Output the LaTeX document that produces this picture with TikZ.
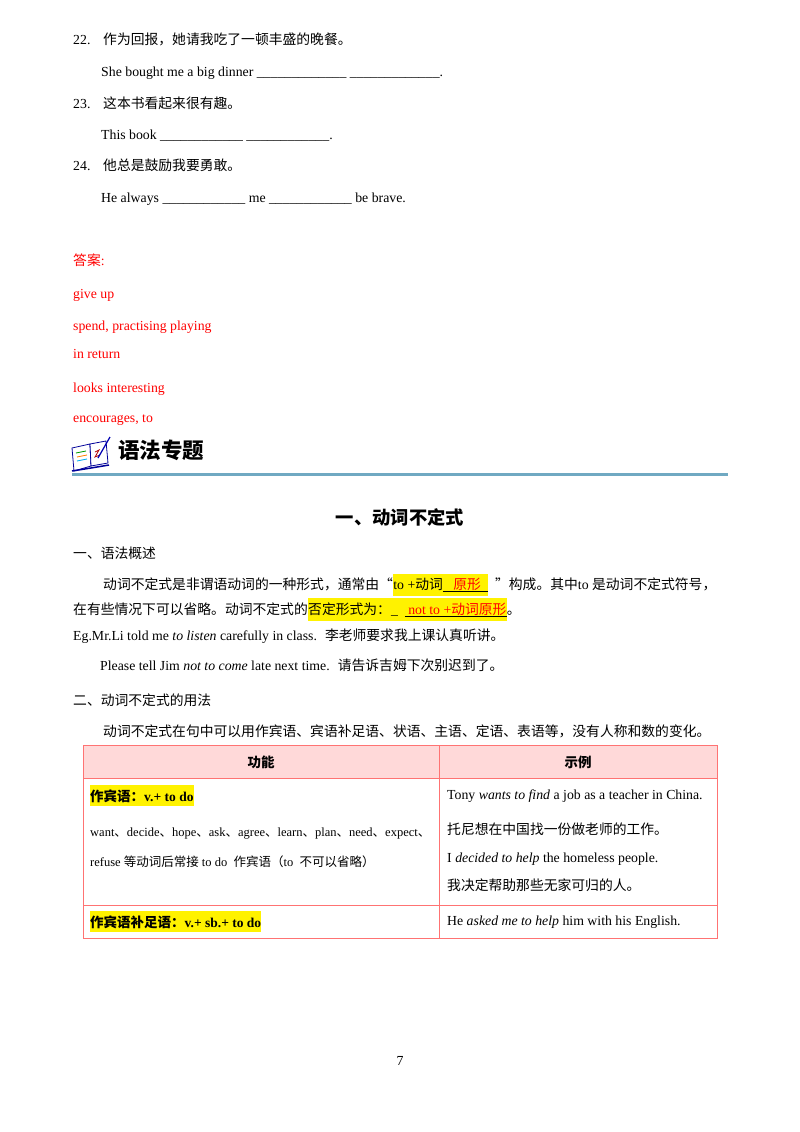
\documentclass[tikz,border=0pt]{standalone}
\usepackage{fontspec}
\setmainfont{Liberation Serif}
\newfontfamily\cjk{Noto Sans CJK SC}
\begin{document}
\begin{tikzpicture}[x=1pt,y=-1pt,
  t/.style={anchor=base west,inner sep=0pt,font=\fontsize{13.8}{16}\selectfont},
  r/.style={t,text=red},
  hl/.style={t,fill=yellow,inner ysep=4pt},
  cell/.style={draw=red!55,line width=0.8pt}]
\useasboundingbox (0,0) rectangle (800,1132);
\fill[white] (0,0) rectangle (800,1132);
% exercises
\node[t] (n22) at (73,45) {22.};
\node[t] (q22) at (103,45) {\cjk 作为回报，她请我吃了一顿丰盛的晚餐。};
\node[t] (a22) at (101,77) {She bought me a big dinner \_\_\_\_\_\_\_\_\_\_\_\_\_ \_\_\_\_\_\_\_\_\_\_\_\_\_.};
\node[t] (n23) at (73,108) {23.};
\node[t] (q23) at (103,108) {\cjk 这本书看起来很有趣。};
\node[t] (a23) at (101,139) {This book \_\_\_\_\_\_\_\_\_\_\_\_ \_\_\_\_\_\_\_\_\_\_\_\_.};
\node[t] (n24) at (73,170) {24.};
\node[t] (q24) at (103,170) {\cjk 他总是鼓励我要勇敢。};
\node[t] (a24) at (101,202) {He always \_\_\_\_\_\_\_\_\_\_\_\_ me \_\_\_\_\_\_\_\_\_\_\_\_ be brave.};
% answers
\node[r] (ans) at (73,265) {{\cjk 答案}:};
\node[r] (ans1) at (73,298) {give up};
\node[r] (ans2) at (73,330) {spend, practising playing};
\node[r] (ans3) at (73,358) {in return};
\node[r] (ans4) at (73,392) {looks interesting};
\node[r] (ans5) at (73,422) {encourages, to};
% header icon
\begin{scope}[line width=0.8pt]
\draw[draw=blue!60!black,fill=white] (72,448) -- (90,444) -- (91,466) -- (74,471) -- cycle;
\draw[draw=blue!60!black,fill=white] (90,444) -- (106,441) -- (108,463) -- (91,466) -- cycle;
\draw[blue!60!black,line width=1.5pt] (72,471) -- (91,468) -- (109,465);
\draw[green!60!black] (76,453) -- (86,451); \draw[orange] (77,457) -- (87,455); \draw[cyan] (77,461) -- (87,459);
\draw[red!70!black] (95,452) -- (99,450) -- (95,457) -- (100,455);
\draw[blue!70!black,line width=1.2pt] (98,458) -- (110,437);
\end{scope}
\node[anchor=base west,inner sep=0pt,font=\fontsize{21.5}{24}\selectfont\cjk\bfseries] (hd) at (118,458) {语法专题};
\draw[blue!30!cyan!40!gray!80,line width=3pt] (72,474) -- (728,474);
\node[anchor=base,inner sep=0pt,font=\fontsize{18.3}{21}\selectfont\cjk\bfseries] (title) at (400,524) {一、动词不定式};
\node[t] (s1) at (73,558) {\cjk 一、语法概述};
% paragraph
\node[t] (p1a) at (103,589) {\cjk 动词不定式是非谓语动词的一种形式，通常由“};
\node[hl] (p1b) at (p1a.base east) {to +{\cjk 动词}\underline{\ \ \ {\color{red}\cjk 原形}\ \ }};
\node[t] (p1c) at (p1b.base east) {\ \ {\cjk ”构成。其中}to {\cjk 是动词不定式符号，}};
\node[t] (p2a) at (73,614) {\cjk 在有些情况下可以省略。动词不定式的};
\node[hl] (p2b) at (p2a.base east) {{\cjk 否定形式为：}\_ \ \underline{\ {\color{red}not to +{\cjk 动词原形}}}};
\node[t] (p2c) at (p2b.base east) {\cjk 。};
\node[t] (eg) at (73,640) {Eg.Mr.Li told me \textit{to listen} carefully in class. \ {\cjk 李老师要求我上课认真听讲。}};
\node[t] (pl) at (100,670) {Please tell Jim \textit{not to come} late next time. \ {\cjk 请告诉吉姆下次别迟到了。}};
\node[t] (s2) at (73,705) {\cjk 二、动词不定式的用法};
\node[t] (s2t) at (103,736) {\cjk 动词不定式在句中可以用作宾语、宾语补足语、状语、主语、定语、表语等，没有人称和数的变化。};
% table
\fill[red!15] (83,745) rectangle (717,778);
\draw[cell] (83,745) rectangle (717,938);
\draw[cell] (83,778) -- (717,778);
\draw[cell] (83,905) -- (717,905);
\draw[cell] (439,745) -- (439,938);
\node[anchor=base,inner sep=0pt,font=\fontsize{13.5}{16}\selectfont\cjk\bfseries] (h1) at (261,767) {功能};
\node[anchor=base,inner sep=0pt,font=\fontsize{13.5}{16}\selectfont\cjk\bfseries] (h2) at (578,767) {示例};
\node[hl,font=\fontsize{13.5}{16}\selectfont\bfseries] (c1) at (90,801) {{\cjk 作宾语：}v.+ to do};
\node[t,font=\fontsize{12.5}{15}\selectfont] (c2) at (90,836) {want{\cjk 、}decide{\cjk 、}hope{\cjk 、}ask{\cjk 、}agree{\cjk 、}learn{\cjk 、}plan{\cjk 、}need{\cjk 、}expect{\cjk 、}};
\node[t,font=\fontsize{12.5}{15}\selectfont] (c3) at (90,866) {refuse {\cjk 等动词后常接} to do \ {\cjk 作宾语（}to \ {\cjk 不可以省略）}};
\node[t] (d1) at (447,799) {Tony \textit{wants to find} a job as a teacher in China.};
\node[t] (d2) at (447,834) {\cjk 托尼想在中国找一份做老师的工作。};
\node[t] (d3) at (447,862) {I \textit{decided to help} the homeless people.};
\node[t] (d4) at (447,890) {\cjk 我决定帮助那些无家可归的人。};
\node[hl,font=\fontsize{13.5}{16}\selectfont\bfseries] (c4) at (90,927) {{\cjk 作宾语补足语：}v.+ sb.+ to do};
\node[t] (d5) at (447,925) {He \textit{asked me to help} him with his English.};
\node[anchor=base,inner sep=0pt,font=\fontsize{13.8}{16}\selectfont] (pg) at (400,1065) {7};
\end{tikzpicture}
\end{document}
